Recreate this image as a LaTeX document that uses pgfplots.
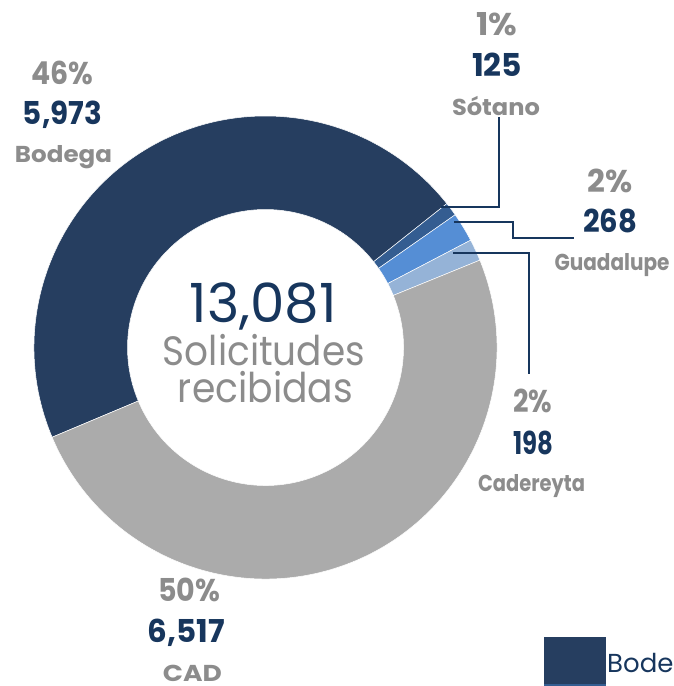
\documentclass[border=0pt]{standalone}
\usepackage{pgfplots}
\pgfplotsset{compat=1.18}
\usepackage{pgfplotstable}
\usepackage{graphicx}
\usepackage{fontspec}
\setmainfont{Poppins}

\definecolor{cBodega}{HTML}{263E60}
\definecolor{cSotano}{HTML}{345D91}
\definecolor{cGuad}{HTML}{558ED5}
\definecolor{cCader}{HTML}{95B3D7}
\definecolor{cCAD}{HTML}{ABABAB}
\definecolor{lblgray}{HTML}{8C8C8C}
\definecolor{navy}{HTML}{17365D}

% slices in clockwise order, starting at the Bodega/CAD boundary
\pgfplotstableread{
name      value col
Bodega    5973  cBodega
Sotano    125   cSotano
Guadalupe 268   cGuad
Cadereyta 198   cCader
CAD       6517  cCAD
}\slices

% x, y (baseline), width, colour, font, text
\newcommand\lbl[6]{\node[anchor=base, text=#4, inner sep=0pt, text depth=0pt, font=#5] at (axis cs:#1,#2) {\resizebox{#3pt}{\height}{#6}};}

\begin{document}
\begin{tikzpicture}
\useasboundingbox (0,0) rectangle (673pt,686pt);
\clip (0,0) rectangle (673pt,686pt);
\begin{axis}[
    x=1pt, y=1pt,
    xmin=0, xmax=673, ymin=0, ymax=686,
    hide axis, clip=false,
    anchor=south west, at={(0,0)},
]
\pgfplotsextra{
  \pgfplotstablegetrowsof{\slices}
  \pgfmathtruncatemacro\nrows{\pgfplotsretval-1}
  \xdef\total{0}
  \foreach \i in {0,...,\nrows}{
    \pgfplotstablegetelem{\i}{value}\of\slices
    \pgfmathsetmacro\t{\total+\pgfplotsretval}
    \xdef\total{\t}
  }
  \xdef\angA{202.8}
  \foreach \i in {0,...,\nrows}{
    \pgfplotstablegetelem{\i}{value}\of\slices
    \pgfmathsetmacro\angB{\angA-\pgfplotsretval/\total*360}
    \pgfplotstablegetelem{\i}{col}\of\slices
    \edef\col{\pgfplotsretval}
    \fill[\col, draw=white, line width=0.5pt]
      (axis cs:{265.5+231.5*cos(\angA)},{338.5+231.5*sin(\angA)})
      arc[start angle=\angA, end angle=\angB, radius=231.5pt]
      -- (axis cs:{265.5+138*cos(\angB)},{338.5+138*sin(\angB)})
      arc[start angle=\angB, end angle=\angA, radius=138pt] -- cycle;
    \xdef\angA{\angB}
  }
}

% leader lines
\draw[navy, line width=1.8pt] (axis cs:441,479) -- (axis cs:499,479) -- (axis cs:499,569);
\draw[navy, line width=1.8pt] (axis cs:454,464) -- (axis cs:513,464) -- (axis cs:513,448) -- (axis cs:574,448);
\draw[navy, line width=1.8pt] (axis cs:453,433) -- (axis cs:529,433) -- (axis cs:529,312);

% centre
\lbl{263.5}{363}{147}{navy}{\fontsize{54}{54}\selectfont}{13,081}
\lbl{264}{320}{202}{lblgray}{\fontsize{41}{41}\selectfont}{Solicitudes}
\lbl{265.5}{283}{175}{lblgray}{\fontsize{41}{41}\selectfont}{recibidas}

% Bodega
\lbl{62.5}{601}{62}{lblgray}{\fontsize{31.5}{31.5}\selectfont\bfseries}{46\%}
\lbl{62.5}{561}{79}{navy}{\fontsize{31.5}{31.5}\selectfont\bfseries}{5,973}
\lbl{63.5}{523}{97}{lblgray}{\fontsize{23}{23}\selectfont\bfseries}{Bodega}
% Sotano
\lbl{497}{650}{41}{lblgray}{\fontsize{31.5}{31.5}\selectfont\bfseries}{1\%}
\lbl{497}{609}{50}{navy}{\fontsize{31.5}{31.5}\selectfont\bfseries}{125}
\lbl{496}{570}{88}{lblgray}{\fontsize{23}{23}\selectfont\bfseries}{Sótano}
% Guadalupe
\lbl{610}{493}{45}{lblgray}{\fontsize{31.5}{31.5}\selectfont\bfseries}{2\%}
\lbl{610}{453}{54}{navy}{\fontsize{31.5}{31.5}\selectfont\bfseries}{268}
\lbl{612}{415}{115}{lblgray}{\fontsize{23}{23}\selectfont\bfseries}{Guadalupe}
% Cadereyta
\lbl{532.5}{273}{39}{lblgray}{\fontsize{31.5}{31.5}\selectfont\bfseries}{2\%}
\lbl{533}{231}{40}{navy}{\fontsize{31.5}{31.5}\selectfont\bfseries}{198}
\lbl{531.5}{194}{107}{lblgray}{\fontsize{23}{23}\selectfont\bfseries}{Cadereyta}
% CAD
\lbl{189}{84}{62}{lblgray}{\fontsize{31.5}{31.5}\selectfont\bfseries}{50\%}
\lbl{186.5}{44}{77}{navy}{\fontsize{31.5}{31.5}\selectfont\bfseries}{6,517}
\lbl{192.5}{5}{59}{lblgray}{\fontsize{23}{23}\selectfont\bfseries}{CAD}

% legend (cut off at the right edge)
\fill[cBodega] (axis cs:544,2) rectangle (axis cs:606,49);
\fill[cSotano] (axis cs:544,0) rectangle (axis cs:606,2);
\node[anchor=base west, inner sep=0pt, text=navy, font=\fontsize{26}{26}\selectfont] at (axis cs:607,13) {Bodega};
\end{axis}
\end{tikzpicture}
\end{document}
